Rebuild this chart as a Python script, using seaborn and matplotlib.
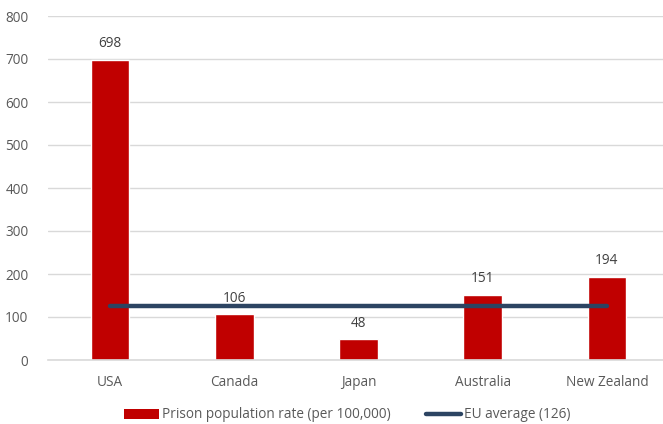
import matplotlib
matplotlib.use("Agg")
import matplotlib.pyplot as plt
import seaborn as sns
import pandas as pd
from matplotlib.patches import Patch
from matplotlib.lines import Line2D

countries = ["USA", "Canada", "Japan", "Australia", "New Zealand"]
prison_rate = [698, 106, 48, 151, 194]
eu_average = 126
y_ticks = [0, 100, 200, 300, 400, 500, 600, 700, 800]

df = pd.DataFrame({"country": countries, "rate": prison_rate})

sns.set_theme(style="white")
plt.rcParams["font.family"] = ["Open Sans", "DejaVu Sans"]

W, H = 663, 424
fig = plt.figure(figsize=(W / 100, H / 100), dpi=100)
# axes box in pixel terms: left 48, right 669, top 16, bottom 360
ax = fig.add_axes([48 / W, 1 - 360 / H, (669 - 48) / W, (360 - 16) / H])

bar_color = "#C00000"
line_color = "#2C4462"
text_color = "#595959"
fs = 9.8

sns.barplot(data=df, x="country", y="rate", color=bar_color, width=0.31,
            saturation=1, ax=ax, zorder=2)

ax.plot([0, len(countries) - 1], [eu_average, eu_average], color=line_color,
        lw=3.2, solid_capstyle="round", zorder=3)

for i, v in enumerate(prison_rate):
    ax.text(i, v + 20, f"{v}", ha="center", va="bottom", fontsize=fs,
            color="#404040")

ax.set_ylim(0, 800)
ax.set_xlim(-0.5, len(countries) - 0.5)
ax.set_yticks(y_ticks)
ax.yaxis.grid(True, color="#D9D9D9", lw=1, zorder=0)
ax.set_axisbelow(True)
for s in ["top", "right", "left"]:
    ax.spines[s].set_visible(False)
ax.spines["bottom"].set_color("#D9D9D9")
ax.spines["bottom"].set_linewidth(1.2)
ax.tick_params(axis="both", length=0, labelsize=fs, colors=text_color)
ax.tick_params(axis="y", pad=14)
ax.tick_params(axis="x", pad=11)
ax.set_xlabel("")
ax.set_ylabel("")

handles = [Patch(facecolor=bar_color, edgecolor="none"),
           Line2D([0], [0], color=line_color, lw=3.2)]
labels = ["Prison population rate (per 100,000)", "EU average (126)"]
fig.legend(handles, labels, loc="center", bbox_to_anchor=(347 / W, 1 - 415 / H),
           ncol=2, frameon=False, fontsize=fs, labelcolor=text_color,
           handlelength=2.6, handletextpad=0.2, columnspacing=2.6)

fig.savefig("out.png", dpi=100)
